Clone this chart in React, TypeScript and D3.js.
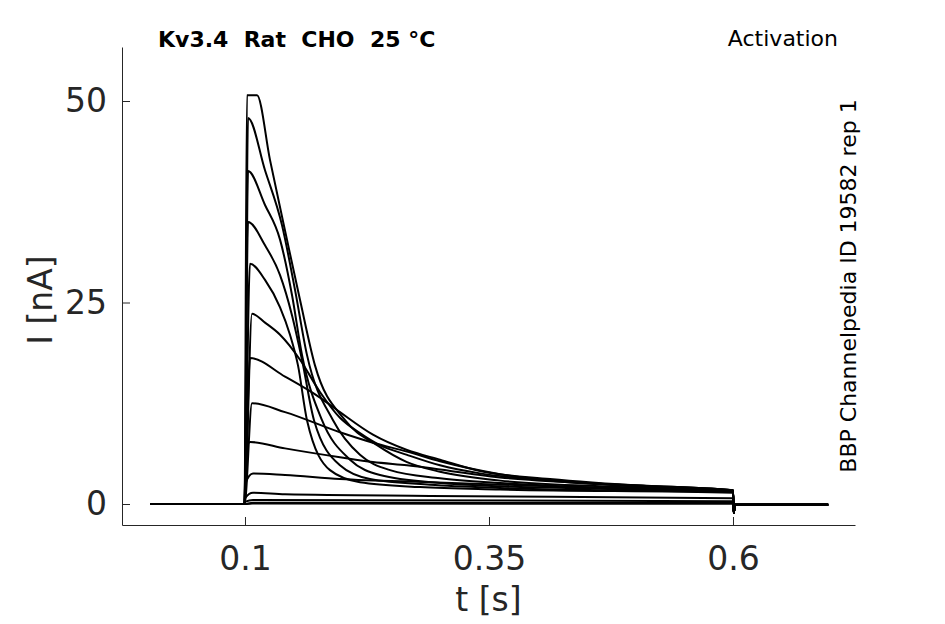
import { useEffect, useRef } from "react"
import * as d3 from "d3"

// time [s], current [nA] pairs, one array per sweep
const sweep1 = [[0.102, 50.7], [0.1123, 50.7], [0.1256, 42.7], [0.143, 32.8], [0.1564, 25.3], [0.1717, 17.2], [0.2025, 10.4], [0.2353, 7.3], [0.266, 5.2], [0.2998, 4.0], [0.3613, 2.9], [0.4637, 2.2], [0.6, 1.7]]
const sweep2 = [[0.1031, 47.9], [0.1205, 41.4], [0.1379, 34.6], [0.1512, 26.6], [0.1635, 18.5], [0.1902, 10.4], [0.2178, 6.1], [0.2486, 4.2], [0.2998, 3.2], [0.3613, 2.6], [0.4637, 2.0], [0.6, 1.6]]
const sweep3 = [[0.1031, 41.3], [0.1205, 37.1], [0.1359, 32.8], [0.1482, 25.9], [0.1584, 18.5], [0.1789, 10.4], [0.2076, 5.5], [0.2383, 3.6], [0.2998, 2.6], [0.3613, 2.2], [0.4637, 1.9], [0.6, 1.5]]
const sweep4 = [[0.1031, 35.0], [0.1205, 32.1], [0.1359, 28.4], [0.1482, 23.4], [0.1584, 17.9], [0.1707, 10.4], [0.1973, 4.8], [0.2281, 3.1], [0.2896, 2.4], [0.3613, 2.0], [0.4637, 1.7], [0.6, 1.5]]
const sweep5 = [[0.1051, 29.8], [0.1205, 27.8], [0.1359, 24.4], [0.1461, 21.0], [0.1543, 17.2], [0.1635, 10.4], [0.1871, 4.2], [0.2178, 2.7], [0.2793, 2.1], [0.3613, 1.8], [0.6, 1.4]]
const sweep6 = [[0.1072, 23.6], [0.1205, 22.5], [0.1359, 21.0], [0.1564, 17.9], [0.1768, 13.9], [0.1973, 10.7], [0.2178, 8.8], [0.2383, 7.3], [0.266, 6.1], [0.2998, 4.8], [0.3408, 3.8], [0.4125, 2.9], [0.515, 2.1], [0.6, 1.7]]
const sweep7 = [[0.1051, 18.1], [0.141, 15.8], [0.1768, 13.2], [0.1973, 11.4], [0.2311, 8.6], [0.266, 6.7], [0.2998, 5.5], [0.3408, 4.1], [0.4125, 3.1], [0.515, 2.2], [0.6, 1.7]]
const sweep8 = [[0.1072, 12.5], [0.141, 11.4], [0.1973, 8.9], [0.2311, 7.6], [0.266, 6.5], [0.2998, 5.3], [0.3613, 3.7], [0.4637, 2.5], [0.6, 1.7]]
const sweep9 = [[0.1005, 6.0], [0.1051, 7.7], [0.141, 6.9], [0.1973, 5.8], [0.2311, 5.2], [0.266, 4.8], [0.3613, 3.3], [0.4637, 2.5], [0.6, 1.7]]
const sweep10 = [[0.1005, 2.6], [0.1082, 3.8], [0.141, 3.6], [0.1973, 3.1], [0.2896, 2.7], [0.4125, 2.2], [0.6, 1.6]]
const sweep11 = [[0.1005, 0.8], [0.1082, 1.4], [0.141, 1.2], [0.2896, 1.0], [0.6, 0.7]]
const sweep12 = [[0.1005, 0.3], [0.1082, 0.5], [0.6, 0.35]]
const sweep13 = [[0.1082, 0.15], [0.6, 0.12]]
const sweep14 = [[0.1082, 0.05], [0.6, 0.04]]

// holding level before and after the step
const preStep = [[0.003, 0], [0.0995, 0]]
const postStep = [[0.6008, -1.1], [0.602, -0.1], [0.6975, -0.1]]

const xTicks = [0.1, 0.35, 0.6]
const yTicks = [0, 25, 50]

const sweeps = [sweep1, sweep2, sweep3, sweep4, sweep5, sweep6, sweep7, sweep8, sweep9, sweep10, sweep11, sweep12, sweep13, sweep14]

const font = "DejaVu Sans"
const ink = "#262626"

export default function App() {
  const svgRef = useRef<SVGSVGElement>(null)

  useEffect(() => {
    if (!svgRef.current) return
    const svg = d3.select(svgRef.current)
    svg.selectAll("*").remove()

    const x = d3.scaleLinear().domain([-0.02602, 0.725]).range([122, 855])
    const y = d3.scaleLinear().domain([-2.605, 56.7]).range([525, 47])

    const path = d3
      .line<number[]>()
      .x((d) => x(d[0]))
      .y((d) => y(d[1]))
      .curve(d3.curveMonotoneX)

    // traces
    svg
      .append("g")
      .selectAll("path")
      .data(sweeps.slice().reverse())
      .enter()
      .append("path")
      .attr("d", (s) => path([...preStep, ...s, ...postStep]))
      .attr("fill", "none")
      .attr("stroke", "black")
      .attr("stroke-width", 2)
      .attr("stroke-linejoin", "round")

    // axes
    const xAxis = svg
      .append("g")
      .attr("transform", `translate(0,525)`)
      .call(d3.axisBottom(x).tickValues(xTicks).tickFormat(d3.format("")).tickSizeInner(-8).tickSizeOuter(0).tickPadding(22))
    const yAxis = svg
      .append("g")
      .attr("transform", `translate(122,0)`)
      .call(d3.axisLeft(y).tickValues(yTicks).tickSizeInner(-8).tickSizeOuter(0).tickPadding(15))

    ;[xAxis, yAxis].forEach((a) => {
      a.select(".domain").attr("stroke", ink).attr("stroke-width", 1)
      a.selectAll(".tick line").attr("stroke", ink)
      a.selectAll(".tick text").attr("fill", ink).style("font-family", font).style("font-size", "33px")
    })

    svg
      .append("text")
      .attr("x", 488.5)
      .attr("y", 611)
      .attr("text-anchor", "middle")
      .attr("fill", ink)
      .style("font-family", font)
      .style("font-size", "33px")
      .text("t [s]")

    svg
      .append("text")
      .attr("transform", "translate(52,300) rotate(-90)")
      .attr("text-anchor", "middle")
      .attr("fill", ink)
      .style("font-family", font)
      .style("font-size", "33px")
      .text("I [nA]")

    svg
      .append("text")
      .attr("x", 158)
      .attr("y", 47)
      .attr("fill", "black")
      .style("font-family", font)
      .style("font-size", "22px")
      .style("font-weight", "bold")
      .style("white-space", "pre")
      .text("Kv3.4  Rat  CHO  25 °C")

    svg
      .append("text")
      .attr("x", 838)
      .attr("y", 46)
      .attr("text-anchor", "end")
      .attr("fill", "black")
      .style("font-family", font)
      .style("font-size", "22px")
      .text("Activation")

    svg
      .append("text")
      .attr("transform", "translate(856,286) rotate(-90)")
      .attr("text-anchor", "middle")
      .attr("fill", "black")
      .style("font-family", font)
      .style("font-size", "22px")
      .text("BBP Channelpedia ID 19582 rep 1")
  }, [])

  return <svg ref={svgRef} width={945} height={624} style={{ position: "absolute", left: 0, top: 0, background: "white" }}></svg>
}
